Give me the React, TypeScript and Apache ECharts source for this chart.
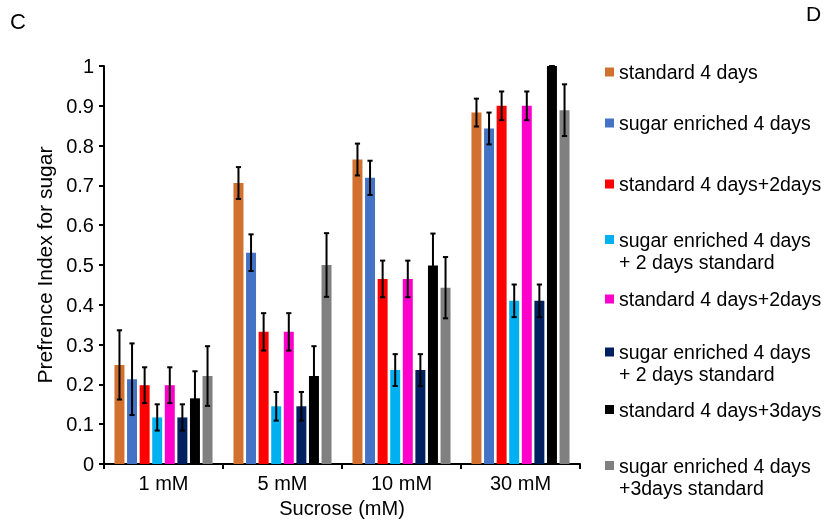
import React, { useEffect, useRef } from "react";
import * as echarts from "echarts";

const categories = ["1 mM", "5 mM", "10 mM", "30 mM"];

const legendLabels = [
  "standard 4 days",
  "sugar enriched 4 days",
  "standard 4 days+2days",
  "sugar enriched 4 days\n+ 2 days standard",
  "standard 4 days+2days",
  "sugar enriched 4 days\n+ 2 days standard",
  "standard 4 days+3days",
  "sugar enriched 4 days\n+3days standard",
];

const standard4 = [0.249, 0.706, 0.765, 0.883];
const sugar4 = [0.213, 0.531, 0.719, 0.843];
const standard4plus2a = [0.198, 0.332, 0.465, 0.9];
const sugar4plus2a = [0.117, 0.145, 0.236, 0.41];
const standard4plus2b = [0.198, 0.332, 0.465, 0.9];
const sugar4plus2b = [0.117, 0.145, 0.236, 0.41];
const standard4plus3 = [0.165, 0.221, 0.499, 1.0];
const sugar4plus3 = [0.221, 0.5, 0.443, 0.889];

const standard4Err = [0.087, 0.04, 0.04, 0.035];
const sugar4Err = [0.09, 0.046, 0.043, 0.04];
const standard4plus2aErr = [0.045, 0.047, 0.046, 0.036];
const sugar4plus2aErr = [0.033, 0.036, 0.04, 0.041];
const standard4plus2bErr = [0.045, 0.047, 0.046, 0.036];
const sugar4plus2bErr = [0.033, 0.036, 0.04, 0.041];
const standard4plus3Err = [0.068, 0.075, 0.08, 0.0];
const sugar4plus3Err = [0.075, 0.08, 0.077, 0.065];

const yTicks = [0, 0.1, 0.2, 0.3, 0.4, 0.5, 0.6, 0.7, 0.8, 0.9, 1];

const seriesValues = [
  standard4, sugar4, standard4plus2a, sugar4plus2a,
  standard4plus2b, sugar4plus2b, standard4plus3, sugar4plus3,
];
const seriesErrors = [
  standard4Err, sugar4Err, standard4plus2aErr, sugar4plus2aErr,
  standard4plus2bErr, sugar4plus2bErr, standard4plus3Err, sugar4plus3Err,
];

const colors = ["#D2702F", "#4472C4", "#FF0000", "#00B0F0", "#FF00CC", "#002060", "#000000", "#808080"];
const legendIconCenters = [72, 123, 184, 239.5, 299, 352, 409.5, 465.5];

const FONT = "'Liberation Sans', Arial, sans-serif";
const CAT_GAP = 0.176;
const BAR_GAP = 0.26;

export default function App() {
  const ref = useRef<HTMLDivElement>(null);
  useEffect(() => {
    if (!ref.current) return;
    const chart = echarts.init(ref.current, undefined, { renderer: "svg" });
    const n = seriesValues.length;
    const keys = legendLabels.map((_, i) => "s" + (i + 1));

    const errData: number[][] = [];
    seriesValues.forEach((vals, si) => {
      vals.forEach((v, ci) => {
        const e = seriesErrors[si][ci];
        errData.push([ci, si, v - e, v + e]);
      });
    });

    const barSeries = seriesValues.map((vals, i) => ({
      type: "bar",
      name: keys[i],
      data: vals,
      itemStyle: { color: colors[i] },
      barCategoryGap: (CAT_GAP * 100).toFixed(1) + "%",
      barGap: BAR_GAP * 100 + "%",
    }));

    const errSeries = {
      type: "custom",
      name: "err",
      data: errData,
      encode: { x: 0, y: 3 },
      z: 10,
      renderItem: (params: any, api: any) => {
        const ci = api.value(0);
        const si = api.value(1);
        const lo = api.value(2);
        const hi = api.value(3);
        const catW = api.size([1, 0])[0];
        const usable = catW * (1 - CAT_GAP);
        const barW = usable / (n + (n - 1) * BAR_GAP);
        const off = -usable / 2 + si * barW * (1 + BAR_GAP) + barW / 2;
        const pLo = api.coord([ci, lo]);
        const pHi = api.coord([ci, hi]);
        const x = pLo[0] + off;
        const cap = 2.6;
        const style = { stroke: "#000", lineWidth: 2 };
        return {
          type: "group",
          children: [
            { type: "line", shape: { x1: x, y1: pLo[1], x2: x, y2: pHi[1] }, style },
            { type: "line", shape: { x1: x - cap, y1: pHi[1], x2: x + cap, y2: pHi[1] }, style },
            { type: "line", shape: { x1: x - cap, y1: pLo[1], x2: x + cap, y2: pLo[1] }, style },
          ],
        };
      },
    };

    const legends = legendLabels.map((lab, i) => {
      const twoLine = lab.indexOf("\n") >= 0;
      const c = legendIconCenters[i];
      return {
        data: [keys[i]],
        orient: "vertical",
        left: 605,
        top: twoLine ? c - 33 : c - 11,
        padding: 0,
        itemWidth: 9,
        itemHeight: 9,
        icon: "rect",
        selectedMode: false,
        // an empty line on top keeps the marker level with the first text line
        formatter: () => (twoLine ? "\n" + lab : lab),
        textStyle: {
          fontFamily: FONT,
          fontSize: 19.5,
          lineHeight: 22,
          color: "#000",
        },
      };
    });

    chart.setOption({
      animation: false,
      textStyle: { fontFamily: FONT },
      grid: { left: 104, right: 246, top: 66, bottom: 59 },
      legend: legends,
      xAxis: {
        type: "category",
        data: categories,
        name: "Sucrose (mM)",
        nameLocation: "middle",
        nameGap: 34,
        nameTextStyle: { fontFamily: FONT, fontSize: 20, color: "#000" },
        axisLine: { lineStyle: { color: "#000", width: 2 } },
        axisTick: { show: true, length: 5, lineStyle: { color: "#000", width: 2 } },
        axisLabel: { fontFamily: FONT, fontSize: 20, color: "#000", margin: 9 },
      },
      yAxis: {
        type: "value",
        min: yTicks[0],
        max: yTicks[yTicks.length - 1],
        interval: 0.1,
        name: "Prefrence Index for sugar",
        nameLocation: "middle",
        nameGap: 48,
        nameTextStyle: { fontFamily: FONT, fontSize: 21, color: "#000" },
        splitLine: { show: false },
        axisLine: { show: true, lineStyle: { color: "#000", width: 2 } },
        axisTick: { show: true, length: 5, lineStyle: { color: "#000", width: 2 } },
        axisLabel: { fontFamily: FONT, fontSize: 20, color: "#000", margin: 10 },
      },
      graphic: [
        { type: "text", left: 10, top: 10, style: { text: "C", fontFamily: FONT, fontSize: 22, fill: "#000" } },
        { type: "text", left: 806, top: 3, style: { text: "D", fontFamily: FONT, fontSize: 21, fill: "#000" } },
      ],
      series: [...barSeries, errSeries],
    });
    return () => chart.dispose();
  }, []);
  return <div ref={ref} style={{ position: "fixed", left: 0, top: 0, width: 826, height: 523 }} />;
}
